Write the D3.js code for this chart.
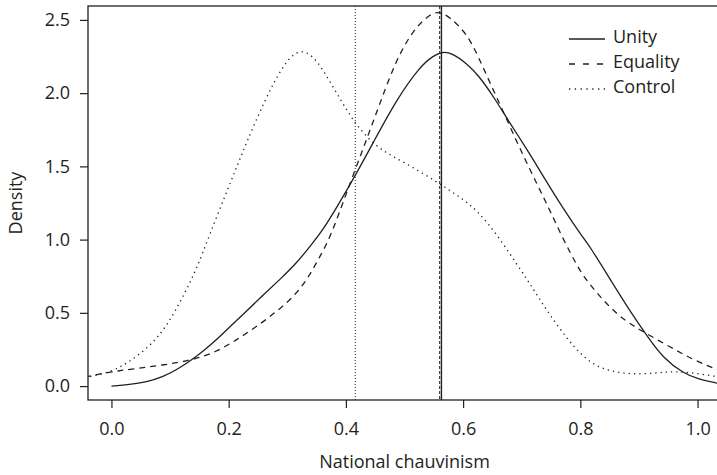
<!DOCTYPE html>
<html>
<head>
<meta charset="utf-8">
<script src="https://cdn.jsdelivr.net/npm/d3@7"></script>
<style>
  html, body { margin: 0; padding: 0; background: #fff; }
  svg text { font-family: "Open Sans", "Noto Sans", sans-serif; fill: #231f20; }
</style>
</head>
<body>
<svg id="chart" width="717" height="475"></svg>
<script>
// Kernel density estimates of national chauvinism by condition: [score, density]
const unity = [
  [0.000, 0.000], [0.031, 0.010], [0.060, 0.028], [0.088, 0.062], [0.115, 0.120],
  [0.145, 0.200], [0.175, 0.300], [0.202, 0.405], [0.230, 0.510], [0.259, 0.622],
  [0.288, 0.730], [0.316, 0.840], [0.340, 0.960], [0.361, 1.066], [0.388, 1.245],
  [0.415, 1.430], [0.446, 1.658], [0.486, 1.954], [0.526, 2.181], [0.550, 2.258],
  [0.565, 2.282], [0.580, 2.275], [0.606, 2.204], [0.628, 2.113], [0.652, 1.976],
  [0.680, 1.794], [0.710, 1.610], [0.737, 1.430], [0.771, 1.210], [0.805, 1.010],
  [0.816, 0.955], [0.850, 0.735], [0.885, 0.510], [0.916, 0.330], [0.942, 0.189],
  [0.976, 0.087], [1.000, 0.048], [1.040, 0.015]
];
const equality = [
  [-0.045, 0.062], [0.000, 0.098], [0.031, 0.114], [0.088, 0.143], [0.139, 0.178],
  [0.179, 0.234], [0.213, 0.314], [0.247, 0.405], [0.282, 0.508], [0.316, 0.630],
  [0.338, 0.755], [0.355, 0.880], [0.374, 1.020], [0.401, 1.320], [0.435, 1.680],
  [0.458, 1.930], [0.486, 2.230], [0.515, 2.432], [0.543, 2.540], [0.560, 2.558],
  [0.577, 2.520], [0.606, 2.409], [0.626, 2.250], [0.646, 2.068], [0.669, 1.870],
  [0.697, 1.620], [0.726, 1.380], [0.748, 1.200], [0.771, 1.000], [0.796, 0.810],
  [0.808, 0.736], [0.822, 0.667], [0.836, 0.600], [0.850, 0.542], [0.867, 0.478],
  [0.884, 0.428], [0.907, 0.371], [0.953, 0.268], [0.993, 0.178], [1.040, 0.102]
];
const control = [
  [-0.045, 0.058], [0.000, 0.096], [0.031, 0.166], [0.065, 0.270], [0.094, 0.405],
  [0.122, 0.610], [0.145, 0.795], [0.168, 1.040], [0.196, 1.320], [0.219, 1.550],
  [0.247, 1.820], [0.276, 2.070], [0.304, 2.255], [0.327, 2.300], [0.350, 2.232],
  [0.378, 2.044], [0.401, 1.885], [0.424, 1.749], [0.458, 1.612], [0.503, 1.521],
  [0.555, 1.395], [0.594, 1.293], [0.626, 1.195], [0.662, 1.010], [0.692, 0.830],
  [0.717, 0.680], [0.742, 0.520], [0.776, 0.330], [0.800, 0.220], [0.828, 0.128],
  [0.868, 0.087], [0.908, 0.080], [0.947, 0.098], [0.982, 0.098], [1.040, 0.060]
];

// Group means, drawn as vertical reference lines
const meanControl = 0.416;
const meanEquality = 0.560;
const meanUnity = 0.563;

const xTicks = [0.0, 0.2, 0.4, 0.6, 0.8, 1.0];
const yTicks = [0.0, 0.5, 1.0, 1.5, 2.0, 2.5];
const seriesNames = ["Unity", "Equality", "Control"];

const svg = d3.select("#chart");
const plot = { left: 88, right: 721, top: 6, bottom: 400 };

const x = d3.scaleLinear().domain([-0.04, 1.04]).range([plot.left, plot.right]);
const y = d3.scaleLinear().domain([-0.095, 2.595]).range([plot.bottom, plot.top]);

const ink = "#231f20";

svg.append("defs").append("clipPath").attr("id", "plotClip")
  .append("rect")
  .attr("x", plot.left).attr("y", plot.top)
  .attr("width", plot.right - plot.left).attr("height", plot.bottom - plot.top);

// Axes
const xAxis = d3.axisBottom(x).tickValues(xTicks).tickFormat(d3.format(".1f"))
  .tickSize(8).tickSizeOuter(0).tickPadding(10);
const yAxis = d3.axisLeft(y).tickValues(yTicks).tickFormat(d3.format(".1f"))
  .tickSize(8).tickSizeOuter(0).tickPadding(10);

const gx = svg.append("g").attr("transform", `translate(0,${plot.bottom})`).call(xAxis);
const gy = svg.append("g").attr("transform", `translate(${plot.left},0)`).call(yAxis);
[gx, gy].forEach(g => {
  g.select(".domain").remove();
  g.selectAll(".tick line").attr("stroke", ink).attr("stroke-width", 1.2);
  g.selectAll(".tick text").attr("font-size", 18).attr("fill", ink)
    .style("font-family", '"Open Sans", sans-serif');
});
gx.selectAll(".tick text").attr("dy", "0.95em");

// Frame around the plotting region
svg.append("rect")
  .attr("x", plot.left).attr("y", plot.top)
  .attr("width", plot.right - plot.left).attr("height", plot.bottom - plot.top)
  .attr("fill", "none").attr("stroke", ink).attr("stroke-width", 1.3);

const body = svg.append("g").attr("clip-path", "url(#plotClip)");

// Mean lines
const means = [
  { v: meanControl, dash: "1,2", w: 1 },
  { v: meanEquality, dash: "3,2", w: 1 },
  { v: meanUnity, dash: null, w: 1.4 }
];
means.forEach(m => {
  body.append("line")
    .attr("x1", x(m.v)).attr("x2", x(m.v))
    .attr("y1", plot.top).attr("y2", plot.bottom)
    .attr("stroke", ink).attr("stroke-width", m.w)
    .attr("stroke-dasharray", m.dash);
});

const line = d3.line().x(d => x(d[0])).y(d => y(d[1])).curve(d3.curveBasis);

const styles = [
  { data: unity, dash: null, w: 1.3 },
  { data: equality, dash: "6,5", w: 1.3 },
  { data: control, dash: "1.3,4", w: 1.3 }
];
styles.forEach(s => {
  body.append("path").datum(s.data)
    .attr("d", line)
    .attr("fill", "none").attr("stroke", ink)
    .attr("stroke-width", s.w)
    .attr("stroke-dasharray", s.dash);
});

// Legend
const legend = svg.append("g");
seriesNames.forEach((name, i) => {
  const yy = 39 + i * 25;
  legend.append("line")
    .attr("x1", 569).attr("x2", 605).attr("y1", yy).attr("y2", yy)
    .attr("stroke", ink).attr("stroke-width", 1.3)
    .attr("stroke-dasharray", styles[i].dash ? (i === 1 ? "6,8" : "1.3,4.5") : null);
  legend.append("text")
    .attr("x", 613).attr("y", yy - 2).attr("dy", "0.35em")
    .attr("font-size", 18).text(name);
});

// Axis titles
svg.append("text")
  .attr("x", (plot.left + plot.right) / 2).attr("y", 468)
  .attr("text-anchor", "middle").attr("font-size", 18)
  .text("National chauvinism");
svg.append("text")
  .attr("transform", `translate(22,${(plot.top + plot.bottom) / 2}) rotate(-90)`)
  .attr("text-anchor", "middle").attr("font-size", 18)
  .text("Density");
</script>
</body>
</html>
